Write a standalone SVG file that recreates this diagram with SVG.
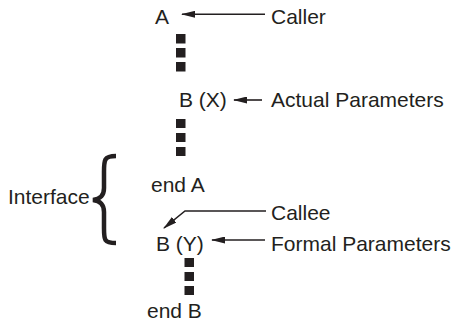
<svg xmlns="http://www.w3.org/2000/svg" width="453" height="323" viewBox="0 0 453 323">
<defs>
<style>
text{font-family:"Liberation Sans",Arial,sans-serif;font-size:21px;fill:#231f20}
.ln{stroke:#231f20;stroke-width:1.6;fill:none}
.sq{fill:#231f20}
</style>
<marker id="ah" viewBox="0 0 14 7" refX="13" refY="3.5" markerWidth="14" markerHeight="7" markerUnits="userSpaceOnUse" orient="auto">
<path d="M0,0 L14,3.5 L0,7 Z" fill="#231f20"/>
</marker>
</defs>
<rect width="453" height="323" fill="#fff"/>
<g id="nodeA"><text x="155" y="24">A</text></g>
<g id="caller"><text x="271" y="24">Caller</text></g>
<g id="dots1"><rect class="sq" x="176" y="34" width="9.5" height="9.5"/><rect class="sq" x="176" y="48" width="9.5" height="9.5"/><rect class="sq" x="176" y="62" width="9.5" height="9.5"/></g>
<g id="callBX"><text x="179" y="107">B (X)</text></g>
<g id="actual"><text x="271" y="107">Actual Parameters</text></g>
<g id="dots2"><rect class="sq" x="176" y="119" width="9.5" height="9"/><rect class="sq" x="176" y="133" width="9.5" height="9"/><rect class="sq" x="176" y="147" width="9.5" height="9"/></g>
<g id="endA"><text x="151" y="192">end A</text></g>
<g id="interface"><text x="8" y="204">Interface</text>
<path d="M116,156 C104,156 104,160 104,172 L104,188 C104,196 100,199 93,200 C100,201 104,204 104,212 L104,228 C104,240 104,243 116,243" fill="none" stroke="#231f20" stroke-width="4.5"/></g>
<g id="callee"><text x="271" y="220">Callee</text></g>
<g id="BY"><text x="156" y="251">B (Y)</text></g>
<g id="formal"><text x="271" y="251">Formal Parameters</text></g>
<g id="dots3"><rect class="sq" x="184.5" y="258" width="9.5" height="9"/><rect class="sq" x="184.5" y="272" width="9.5" height="9"/><rect class="sq" x="184.5" y="286" width="9.5" height="9"/></g>
<g id="endB"><text x="147" y="318">end B</text></g>
<g id="connectors">
<line class="ln" x1="265" y1="14.3" x2="182" y2="14.3" marker-end="url(#ah)"/>
<line class="ln" x1="262" y1="100" x2="234" y2="100" marker-end="url(#ah)"/>
<polyline class="ln" points="266,211 185,211 164,228" marker-end="url(#ah)"/>
<line class="ln" x1="265" y1="240" x2="212" y2="240" marker-end="url(#ah)"/>
</g>
</svg>
